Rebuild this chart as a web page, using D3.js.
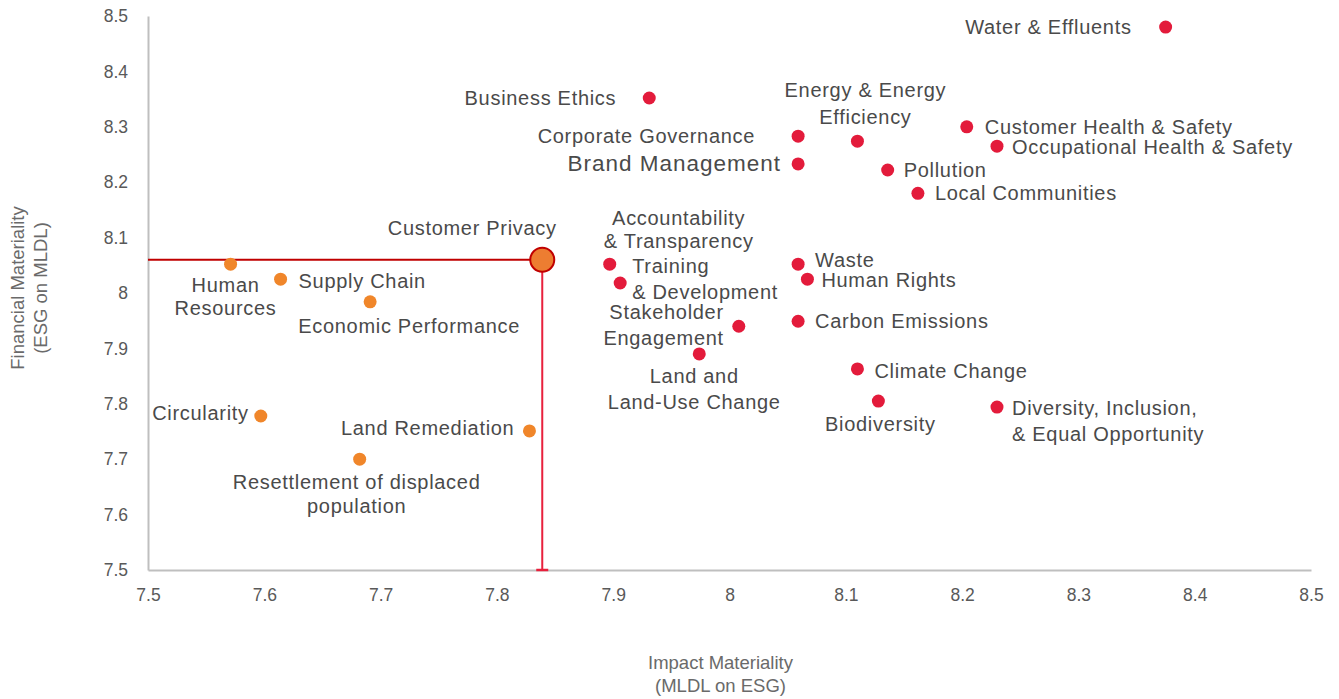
<!DOCTYPE html>
<html>
<head>
<meta charset="utf-8">
<script src="https://cdn.jsdelivr.net/npm/d3@7"></script>
<style>
  html, body { margin: 0; padding: 0; background: #fff; }
  svg { display: block; }
  text { font-family: "Liberation Sans", Arial, sans-serif; }
</style>
</head>
<body>
<svg id="chart" width="1339" height="699"></svg>
<script>
// ---- data ----
const topics = [
  "Water & Effluents", "Business Ethics", "Corporate Governance", "Brand Management",
  "Energy & Energy Efficiency", "Customer Health & Safety", "Occupational Health & Safety",
  "Pollution", "Local Communities", "Customer Privacy", "Human Resources", "Supply Chain",
  "Economic Performance", "Accountability & Transparency", "Training & Development",
  "Stakeholder Engagement", "Land and Land-Use Change", "Waste", "Human Rights",
  "Carbon Emissions", "Climate Change", "Biodiversity", "Diversity, Inclusion, & Equal Opportunity",
  "Circularity", "Land Remediation", "Resettlement of displaced population"
];
const impactValues = [
  8.375, 7.931, 8.059, 8.059,
  8.110, 8.204, 8.230,
  8.136, 8.162, 7.839, 7.571, 7.614,
  7.691, 7.897, 7.906,
  8.008, 7.974, 8.059, 8.067,
  8.059, 8.110, 8.128, 8.230,
  7.597, 7.828, 7.682
];
const financialValues = [
  8.480, 8.352, 8.283, 8.233,
  8.274, 8.300, 8.265,
  8.222, 8.180, 8.060, 8.052, 8.025,
  7.984, 8.052, 8.018,
  7.940, 7.890, 8.052, 8.025,
  7.949, 7.863, 7.805, 7.794,
  7.778, 7.751, 7.700
];
const groups = [
  "high", "high", "high", "high",
  "high", "high", "high",
  "high", "high", "low", "low", "low",
  "low", "high", "high",
  "high", "high", "high", "high",
  "high", "high", "high", "high",
  "low", "low", "low"
];
const highlightTopic = "Customer Privacy";
const xTicks = [7.5, 7.6, 7.7, 7.8, 7.9, 8, 8.1, 8.2, 8.3, 8.4, 8.5];
const yTicks = [7.5, 7.6, 7.7, 7.8, 7.9, 8, 8.1, 8.2, 8.3, 8.4, 8.5];
const xTitle = ["Impact Materiality", "(MLDL on ESG)"];
const yTitle = ["Financial Materiality", "(ESG on MLDL)"];

// ---- label layout (pixel offsets from the point) ----
const labelLayout = {
  "Water & Effluents": {lines: ["Water & Effluents"], anchor: "end", dx: -34, dy: [0]},
  "Business Ethics": {lines: ["Business Ethics"], anchor: "end", dx: -33, dy: [0]},
  "Corporate Governance": {lines: ["Corporate Governance"], anchor: "end", dx: -43, dy: [0]},
  "Brand Management": {lines: ["Brand Management"], anchor: "end", dx: -17, dy: [0], size: 22.5, ls: 1.0},
  "Energy & Energy Efficiency": {lines: ["Energy & Energy", "Efficiency"], anchor: "middle", dx: 8, dy: [-51, -24]},
  "Customer Health & Safety": {lines: ["Customer Health & Safety"], anchor: "start", dx: 18, dy: [0]},
  "Occupational Health & Safety": {lines: ["Occupational Health & Safety"], anchor: "start", dx: 15, dy: [1]},
  "Pollution": {lines: ["Pollution"], anchor: "start", dx: 16, dy: [0]},
  "Local Communities": {lines: ["Local Communities"], anchor: "start", dx: 17, dy: [0]},
  "Customer Privacy": {lines: ["Customer Privacy"], anchor: "middle", dx: -70, dy: [-32]},
  "Human Resources": {lines: ["Human", "Resources"], anchor: "middle", dx: -5, dy: [21, 44]},
  "Supply Chain": {lines: ["Supply Chain"], anchor: "start", dx: 18, dy: [2]},
  "Economic Performance": {lines: ["Economic Performance"], anchor: "middle", dx: 39, dy: [24]},
  "Accountability & Transparency": {lines: ["Accountability", "& Transparency"], anchor: "middle", dx: 69, dy: [-46, -23]},
  "Training & Development": {lines: ["Training", "& Development"], anchor: "start", dx: 12, dy: [-17, 9]},
  "Stakeholder Engagement": {lines: ["Stakeholder", "Engagement"], anchor: "end", dx: -15, dy: [-14, 12]},
  "Land and Land-Use Change": {lines: ["Land and", "Land-Use Change"], anchor: "middle", dx: -5, dy: [22, 48]},
  "Waste": {lines: ["Waste"], anchor: "start", dx: 17, dy: [-4]},
  "Human Rights": {lines: ["Human Rights"], anchor: "start", dx: 14, dy: [1]},
  "Carbon Emissions": {lines: ["Carbon Emissions"], anchor: "start", dx: 17, dy: [0]},
  "Climate Change": {lines: ["Climate Change"], anchor: "start", dx: 17, dy: [2]},
  "Biodiversity": {lines: ["Biodiversity"], anchor: "middle", dx: 2, dy: [23]},
  "Diversity, Inclusion, & Equal Opportunity": {lines: ["Diversity, Inclusion,", "& Equal Opportunity"], anchor: "start", dx: 15, dy: [1, 27]},
  "Circularity": {lines: ["Circularity"], anchor: "end", dx: -12, dy: [-3]},
  "Land Remediation": {lines: ["Land Remediation"], anchor: "end", dx: -15, dy: [-3]},
  "Resettlement of displaced population": {lines: ["Resettlement of displaced", "population"], anchor: "middle", dx: -3, dy: [23, 47]}
};

const colors = {high: "#e31b3b", low: "#f0862a"};

const svg = d3.select("#chart");
const margin = {left: 148, right: 28, top: 16, bottom: 129};
const W = 1339, H = 699;

const x = d3.scaleLinear().domain([7.5, 8.5]).range([margin.left, W - margin.right]);
const y = d3.scaleLinear().domain([7.5, 8.5]).range([H - margin.bottom, margin.top]);

// axes
const xAxis = d3.axisBottom(x).tickValues(xTicks).tickSize(0).tickPadding(19).tickFormat(d3.format("~g"));
const yAxis = d3.axisLeft(y).tickValues(yTicks).tickSize(0).tickPadding(20).tickFormat(d3.format("~g"));

const gx = svg.append("g").attr("transform", `translate(0,${y(7.5)})`).call(xAxis);
const gy = svg.append("g").attr("transform", `translate(${x(7.5)},0)`).call(yAxis);
[gx, gy].forEach(g => {
  g.select(".domain").attr("stroke", "#bfbfbf").attr("stroke-width", 2);
  g.selectAll("text").attr("fill", "#595959").style("font-size", "17.5px")
   .style("font-family", "'Liberation Sans', Arial, sans-serif");
});

// axis titles
svg.append("text")
  .attr("transform", `translate(${30},${y(8.0) - 5}) rotate(-90)`)
  .attr("text-anchor", "middle").attr("fill", "#6a6a6a").style("font-size", "18.5px")
  .selectAll("tspan").data(yTitle).join("tspan")
  .attr("x", 0).attr("dy", (d, i) => i === 0 ? "-0.3em" : "1.2em").text(d => d);

svg.append("text")
  .attr("transform", `translate(${x(8.0) - 9},${669})`)
  .attr("text-anchor", "middle").attr("fill", "#6a6a6a").style("font-size", "18.5px")
  .selectAll("tspan").data(xTitle).join("tspan")
  .attr("x", 0).attr("dy", (d, i) => i === 0 ? "0" : "1.25em").text(d => d);

// data
const data = topics.map((t, i) => ({topic: t, ix: impactValues[i], fy: financialValues[i], group: groups[i]}));
const hl = data.find(d => d.topic === highlightTopic);

// reference lines for highlight
svg.append("line")
  .attr("x1", x(7.5)).attr("x2", x(hl.ix)).attr("y1", y(hl.fy)).attr("y2", y(hl.fy))
  .attr("stroke", "#c00000").attr("stroke-width", 2);
svg.append("line")
  .attr("x1", x(hl.ix)).attr("x2", x(hl.ix)).attr("y1", y(hl.fy)).attr("y2", y(7.5))
  .attr("stroke", "#e8203c").attr("stroke-width", 2);
svg.append("line")
  .attr("x1", x(hl.ix) - 6).attr("x2", x(hl.ix) + 6).attr("y1", y(7.5)).attr("y2", y(7.5))
  .attr("stroke", "#e8203c").attr("stroke-width", 2.5);

// points
svg.append("g").selectAll("circle").data(data).join("circle")
  .attr("cx", d => x(d.ix)).attr("cy", d => y(d.fy))
  .attr("r", d => d.topic === highlightTopic ? 12 : 6.5)
  .attr("fill", d => d.topic === highlightTopic ? "#ed7d31" : colors[d.group])
  .attr("stroke", d => d.topic === highlightTopic ? "#c00000" : "none")
  .attr("stroke-width", 2);

// labels
const lg = svg.append("g");
data.forEach(d => {
  const L = labelLayout[d.topic];
  const t = lg.append("text")
    .attr("text-anchor", L.anchor)
    .attr("fill", "#4a4a4a")
    .style("font-size", (L.size || 20) + "px")
    .style("letter-spacing", (L.ls != null ? L.ls : 0.7) + "px");
  L.lines.forEach((line, i) => {
    t.append("tspan")
      .attr("x", x(d.ix) + L.dx)
      .attr("y", y(d.fy) + L.dy[i])
      .attr("dominant-baseline", "central")
      .text(line);
  });
});
</script>
</body>
</html>
